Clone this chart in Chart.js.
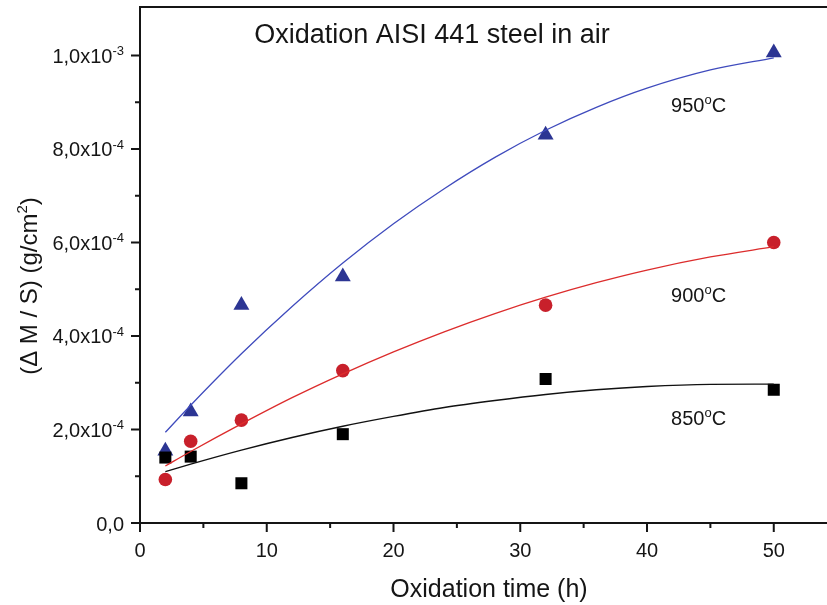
<!DOCTYPE html>
<html>
<head>
<meta charset="utf-8">
<title>Oxidation AISI 441 steel in air</title>
<script src="https://cdn.jsdelivr.net/npm/chart.js@4.4.1/dist/chart.umd.min.js"></script>
<style>
  html, body { margin: 0; padding: 0; background: #fff; }
  #wrap { width: 827px; height: 605px; }
</style>
</head>
<body>
<div id="wrap"><canvas id="oxChart" width="827" height="605"></canvas></div>
<script>
// measured mass gain (g/cm2) at each oxidation time (h)
const hours = [2, 4, 8, 16, 32, 50];
const gain850 = [1.40e-4, 1.42e-4, 0.85e-4, 1.90e-4, 3.08e-4, 2.85e-4];
const gain900 = [0.93e-4, 1.75e-4, 2.20e-4, 3.26e-4, 4.66e-4, 6.00e-4];
const gain950 = [1.54e-4, 2.38e-4, 4.66e-4, 5.27e-4, 8.30e-4, 1.006e-3];

// fitted curves
const fitHours = [2, 4, 8, 12, 16, 20, 24, 28, 32, 36, 40, 45, 50];
const fit850 = [1.10e-4, 1.26e-4, 1.56e-4, 1.83e-4, 2.07e-4, 2.28e-4, 2.47e-4, 2.62e-4, 2.75e-4, 2.85e-4, 2.92e-4, 2.965e-4, 2.97e-4];
const fit900 = [1.22e-4, 1.53e-4, 2.12e-4, 2.68e-4, 3.19e-4, 3.66e-4, 4.09e-4, 4.48e-4, 4.83e-4, 5.14e-4, 5.41e-4, 5.69e-4, 5.91e-4];
const fit950 = [1.94e-4, 2.52e-4, 3.62e-4, 4.63e-4, 5.56e-4, 6.40e-4, 7.15e-4, 7.82e-4, 8.40e-4, 8.89e-4, 9.30e-4, 9.69e-4, 9.95e-4];

// axis ticks
const xTicks = [0, 10, 20, 30, 40, 50];
const xMinorTicks = [5, 15, 25, 35, 45];
const yTicks = [0, 2e-4, 4e-4, 6e-4, 8e-4, 1e-3];
const yTickText = ['0,0', '2,0x10', '4,0x10', '6,0x10', '8,0x10', '1,0x10'];
const yTickExp = ['', '-4', '-4', '-4', '-4', '-3'];
const yMinorTicks = [1e-4, 3e-4, 5e-4, 7e-4, 9e-4];

const seriesTemps = ['850', '900', '950'];

const FONT = '"Liberation Sans", Arial, Helvetica, sans-serif';
const INK = '#151515';

function pts(xs, ys) {
    return xs.map((x, i) => ({ x: x, y: ys[i] }));
}

// axes, ticks and labels drawn by hand so the superscripts look right
const axesPlugin = {
    id: 'axesPlugin',
    afterDraw(chart) {
        const ctx = chart.ctx;
        const area = chart.chartArea;
        const sx = chart.scales.x;
        const sy = chart.scales.y;
        ctx.save();
        ctx.strokeStyle = INK;
        ctx.fillStyle = INK;
        ctx.lineWidth = 2;

        // frame (right side is cut off in the original)
        ctx.beginPath();
        ctx.moveTo(area.left, area.top);
        ctx.lineTo(area.right, area.top);
        ctx.moveTo(area.left, area.top - 1);
        ctx.lineTo(area.left, area.bottom + 1);
        ctx.moveTo(area.left - 1, area.bottom);
        ctx.lineTo(area.right, area.bottom);
        ctx.stroke();

        // x ticks
        ctx.beginPath();
        xTicks.forEach(v => {
            const px = sx.getPixelForValue(v);
            ctx.moveTo(px, area.bottom);
            ctx.lineTo(px, area.bottom + 9);
        });
        xMinorTicks.forEach(v => {
            const px = sx.getPixelForValue(v);
            ctx.moveTo(px, area.bottom);
            ctx.lineTo(px, area.bottom + 5);
        });
        // y ticks
        yTicks.forEach(v => {
            const py = sy.getPixelForValue(v);
            ctx.moveTo(area.left, py);
            ctx.lineTo(area.left - 9, py);
        });
        yMinorTicks.forEach(v => {
            const py = sy.getPixelForValue(v);
            ctx.moveTo(area.left, py);
            ctx.lineTo(area.left - 5, py);
        });
        ctx.stroke();

        // x tick labels
        ctx.font = '20px ' + FONT;
        ctx.textAlign = 'center';
        ctx.textBaseline = 'alphabetic';
        xTicks.forEach(v => {
            ctx.fillText(String(v), sx.getPixelForValue(v), area.bottom + 34);
        });

        // y tick labels with exponent
        ctx.textAlign = 'left';
        yTicks.forEach((v, i) => {
            const py = sy.getPixelForValue(v);
            ctx.font = '13px ' + FONT;
            const ew = yTickExp[i] ? ctx.measureText(yTickExp[i]).width : 0;
            ctx.font = '20px ' + FONT;
            const mw = ctx.measureText(yTickText[i]).width;
            const right = area.left - 16;
            ctx.fillText(yTickText[i], right - ew - mw, py + 7.5);
            if (yTickExp[i]) {
                ctx.font = '13px ' + FONT;
                ctx.fillText(yTickExp[i], right - ew, py);
            }
        });

        // x axis title
        ctx.font = '25px ' + FONT;
        ctx.textAlign = 'center';
        ctx.fillText('Oxidation time (h)', 489, 597);

        // y axis title, rotated
        ctx.save();
        ctx.translate(37, 286);
        ctx.rotate(-Math.PI / 2);
        ctx.textAlign = 'left';
        const partA = '(\u0394 M / S) (g/cm';
        const partSup = '2';
        const partB = ')';
        ctx.font = '24px ' + FONT;
        const wA = ctx.measureText(partA).width;
        const wB = ctx.measureText(partB).width;
        ctx.font = '15px ' + FONT;
        const wS = ctx.measureText(partSup).width;
        let cx = -(wA + wS + wB) / 2;
        ctx.font = '24px ' + FONT;
        ctx.fillText(partA, cx, 0);
        cx += wA;
        ctx.font = '15px ' + FONT;
        ctx.fillText(partSup, cx, -10);
        cx += wS;
        ctx.font = '24px ' + FONT;
        ctx.fillText(partB, cx, 0);
        ctx.restore();

        // chart title
        ctx.font = '27px ' + FONT;
        ctx.textAlign = 'center';
        ctx.fillText('Oxidation AISI 441 steel in air', 432, 43);

        // temperature labels next to the curves: "950", raised "o", "C"
        ctx.textAlign = 'left';
        const labelY = [2.10e-4, 4.73e-4, 8.80e-4];
        seriesTemps.forEach((t, i) => {
            let px = sx.getPixelForValue(41.9);
            const py = sy.getPixelForValue(labelY[i]);
            ctx.font = '20px ' + FONT;
            ctx.fillText(t, px, py);
            px += ctx.measureText(t).width;
            ctx.font = '13px ' + FONT;
            ctx.fillText('o', px, py - 8);
            px += ctx.measureText('o').width;
            ctx.font = '20px ' + FONT;
            ctx.fillText('C', px, py);
        });

        ctx.restore();
    }
};

const ctx = document.getElementById('oxChart').getContext('2d');
const chart = new Chart(ctx, {
    type: 'scatter',
    data: {
        datasets: [
            {
                label: '850 fit',
                data: pts(fitHours, fit850),
                showLine: true,
                borderColor: '#111111',
                borderWidth: 1.4,
                pointRadius: 0,
                cubicInterpolationMode: 'monotone'
            },
            {
                label: '900 fit',
                data: pts(fitHours, fit900),
                showLine: true,
                borderColor: '#dc2c2c',
                borderWidth: 1.3,
                pointRadius: 0,
                cubicInterpolationMode: 'monotone'
            },
            {
                label: '950 fit',
                data: pts(fitHours, fit950),
                showLine: true,
                borderColor: '#3f4bbd',
                borderWidth: 1.3,
                pointRadius: 0,
                cubicInterpolationMode: 'monotone'
            },
            {
                label: '850°C',
                data: pts(hours, gain850),
                pointStyle: 'rect',
                pointRadius: 8.5,
                backgroundColor: '#000000',
                borderColor: '#000000',
                borderWidth: 0
            },
            {
                label: '900°C',
                data: pts(hours, gain900),
                pointStyle: 'circle',
                pointRadius: 6.8,
                backgroundColor: '#c8202b',
                borderColor: '#c8202b',
                borderWidth: 0
            },
            {
                label: '950°C',
                data: pts(hours, gain950),
                pointStyle: 'triangle',
                pointRadius: 9.2,
                backgroundColor: '#2c3593',
                borderColor: '#2c3593',
                borderWidth: 0
            }
        ]
    },
    options: {
        responsive: false,
        animation: false,
        layout: { autoPadding: false, padding: { top: 7, left: 0, right: 0, bottom: 0 } },
        plugins: {
            legend: { display: false },
            tooltip: { enabled: false }
        },
        scales: {
            x: {
                type: 'linear',
                min: 0,
                max: 54.2,
                ticks: { display: false },
                grid: { display: false },
                border: { display: false },
                afterFit(scale) { scale.height = 82; }
            },
            y: {
                type: 'linear',
                min: 0,
                max: 1.1037e-3,
                ticks: { display: false },
                grid: { display: false },
                border: { display: false },
                afterFit(scale) { scale.width = 140; }
            }
        }
    },
    plugins: [axesPlugin]
});
</script>
</body>
</html>
